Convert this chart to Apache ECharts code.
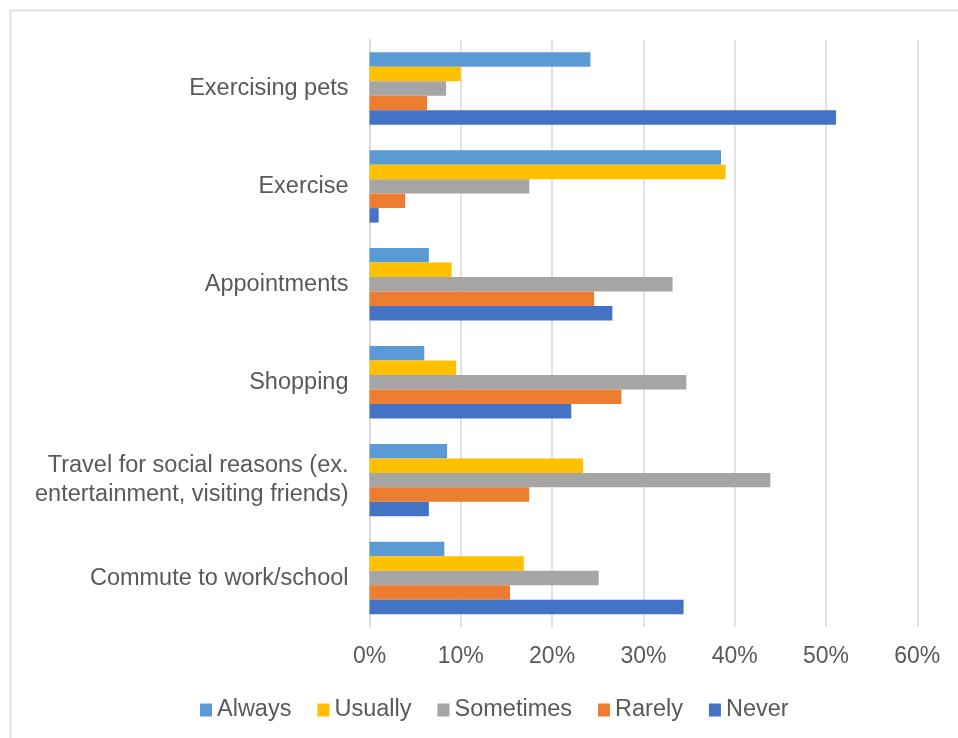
<!DOCTYPE html>
<html>
<head>
<meta charset="utf-8">
<script src="https://cdn.jsdelivr.net/npm/echarts@6/dist/echarts.min.js"></script>
<style>
  html, body { margin: 0; padding: 0; background: #fff; }
  #chart { width: 958px; height: 738px; }
</style>
</head>
<body>
<div id="chart"></div>
<script>
// Trip purposes, listed bottom to top as they appear on the axis
const categories = [
  'Commute to work/school',
  'Travel for social reasons (ex.\nentertainment, visiting friends)',
  'Shopping',
  'Appointments',
  'Exercise',
  'Exercising pets'
];

// Share of respondents (%) per frequency answer, same order as categories
const always    = [8.2, 8.5, 6.0, 6.5, 38.5, 24.2];
const usually   = [16.9, 23.4, 9.5, 9.0, 39.0, 10.0];
const sometimes = [25.1, 43.9, 34.7, 33.2, 17.5, 8.4];
const rarely    = [15.4, 17.5, 27.6, 24.6, 3.9, 6.3];
const never     = [34.4, 6.5, 22.1, 26.6, 1.0, 51.1];

const seriesNames = ['Always', 'Usually', 'Sometimes', 'Rarely', 'Never'];
const seriesValues = [always, usually, sometimes, rarely, never];
const seriesColors = ['#5B9BD5', '#FFC000', '#A5A5A5', '#ED7D31', '#4472C4'];

const xTicks = { min: 0, max: 60, interval: 10 };

const FONT = '"Liberation Sans", Arial, sans-serif';
const TEXT = '#595959';
const GRID = '#d9d9d9';

const chart = echarts.init(document.getElementById('chart'), null, { renderer: 'canvas' });

chart.setOption({
  backgroundColor: '#ffffff',
  animation: false,
  textStyle: { fontFamily: FONT },
  graphic: [{
    type: 'rect',
    shape: { x: 10.5, y: 10.5, width: 960, height: 740 },
    style: { fill: 'none', stroke: GRID, lineWidth: 1.5 },
    silent: true,
    z: -10
  }],
  grid: { left: 369.5, right: 40.7, top: 39.5, bottom: 111, containLabel: false },
  legend: {
    data: seriesNames,
    left: 195,
    top: 693,
    icon: 'rect',
    itemWidth: 12,
    itemHeight: 13,
    itemGap: 26,
    textStyle: { fontFamily: FONT, fontSize: 23.5, color: TEXT }
  },
  xAxis: {
    type: 'value',
    min: xTicks.min,
    max: xTicks.max,
    interval: xTicks.interval,
    axisLine: { show: false },
    axisTick: { show: false },
    splitLine: { show: true, lineStyle: { color: GRID, width: 1.5 } },
    axisLabel: {
      formatter: '{value}%',
      fontFamily: FONT,
      fontSize: 23,
      color: TEXT,
      margin: 18
    }
  },
  yAxis: {
    type: 'category',
    data: categories,
    axisLine: { show: true, lineStyle: { color: GRID, width: 1.5 } },
    axisTick: { show: false },
    axisLabel: {
      fontFamily: FONT,
      fontSize: 23.5,
      lineHeight: 28.5,
      color: TEXT,
      margin: 21,
      align: 'right'
    }
  },
  series: seriesNames.map((name, i) => ({
    name: name,
    type: 'bar',
    data: seriesValues[i],
    itemStyle: { color: seriesColors[i] },
    barGap: '0%',
    barCategoryGap: '26%'
  }))
});
</script>
</body>
</html>
